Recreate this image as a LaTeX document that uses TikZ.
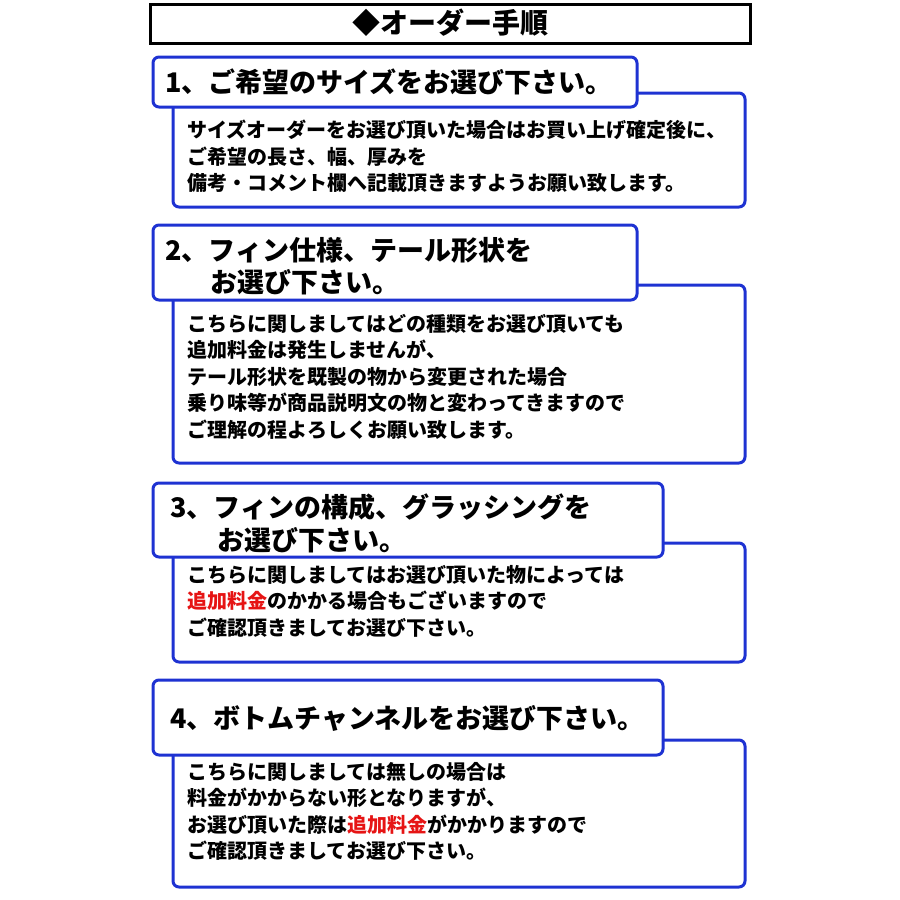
\documentclass[tikz,border=0pt]{standalone}
\usepackage{fontspec}
\newfontfamily\jp{Noto Sans CJK JP}
\definecolor{frameblue}{RGB}{30,50,210}
\definecolor{notered}{RGB}{230,20,20}
\tikzset{
  headbox/.style={draw=frameblue, line width=3pt, rounded corners=6pt, fill=white},
  bodybox/.style={draw=frameblue, line width=3pt, rounded corners=6pt, fill=white},
  headtext/.style={anchor=west, inner sep=0pt, font=\jp\bfseries\fontsize{27}{33}\selectfont},
  bodytext/.style={anchor=north west, inner sep=0pt, align=left, font=\jp\bfseries\fontsize{20}{26.5}\selectfont}
}
\newcommand{\redword}[1]{\textcolor{notered}{#1}}
\begin{document}
\begin{tikzpicture}[x=1pt, y=-1pt]
\useasboundingbox (0,0) rectangle (900,900);
% title
\draw[line width=3pt] (150,4) rectangle (750,43);
\node (title) at (450,23) {\jp\bfseries\fontsize{28}{30}\selectfont ◆オーダー手順};

% step 1
\draw[bodybox] (173,93) rectangle (745,207);
\draw[headbox] (153,57) rectangle (637,107);
\node[headtext] (h1) at (165,82) {1、ご希望のサイズをお選び下さい。};
\node[bodytext] (b1) at (187,120) {サイズオーダーをお選び頂いた場合はお買い上げ確定後に、\\ご希望の長さ、幅、厚みを\\備考・コメント欄へ記載頂きますようお願い致します。};

% step 2
\draw[bodybox] (173,285) rectangle (745,463);
\draw[headbox] (153,225) rectangle (637,300);
\node[headtext] (h2a) at (165,250) {2、フィン仕様、テール形状を};
\node[headtext] (h2b) at (210,282) {お選び下さい。};
\node[bodytext] (b2) at (187,314) {こちらに関しましてはどの種類をお選び頂いても\\追加料金は発生しませんが、\\テール形状を既製の物から変更された場合\\乗り味等が商品説明文の物と変わってきますので\\ご理解の程よろしくお願い致します。};

% step 3
\draw[bodybox] (173,543) rectangle (745,662);
\draw[headbox] (153,483) rectangle (663,557);
\node[headtext] (h3a) at (170,507) {3、フィンの構成、グラッシングを};
\node[headtext] (h3b) at (217,540) {お選び下さい。};
\node[bodytext] (b3) at (187,565) {こちらに関しましてはお選び頂いた物によっては\\\redword{追加料金}のかかる場合もございますので\\ご確認頂きましてお選び下さい。};

% step 4
\draw[bodybox] (173,740) rectangle (745,887);
\draw[headbox] (153,680) rectangle (663,755);
\node[headtext] (h4) at (170,718) {4、ボトムチャンネルをお選び下さい。};
\node[bodytext] (b4) at (187,762) {こちらに関しましては無しの場合は\\料金がかからない形となりますが、\\お選び頂いた際は\redword{追加料金}がかかりますので\\ご確認頂きましてお選び下さい。};
\end{tikzpicture}
\end{document}
